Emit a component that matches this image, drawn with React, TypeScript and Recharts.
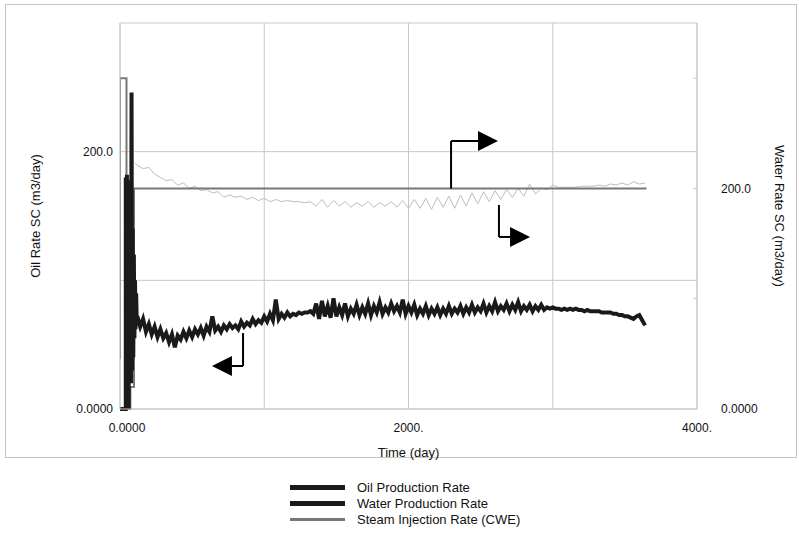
import React from 'react';
import {
  LineChart,
  Line,
  XAxis,
  YAxis,
  CartesianGrid,
  ReferenceLine,
  ReferenceDot,
} from 'recharts';

// ---- data ----
const oilDays = [
  0, 40, 40, 44, 48, 52, 56, 60, 64, 68, 72, 76, 80, 84, 88, 92, 96, 100, 104, 108, 112, 116,
  120, 140, 160, 180, 200, 220, 240, 260, 280, 300,
  320, 340, 360, 380, 400, 420, 440, 460, 480, 500,
  520, 540, 560, 580, 600, 620, 640, 660, 680, 700,
  720, 740, 760, 780, 800, 820, 840, 860, 880, 900,
  920, 940, 960, 980, 1000, 1020, 1040, 1060, 1080, 1100,
  1120, 1140, 1160, 1180, 1200, 1220, 1240, 1260, 1280, 1300,
  1320, 1340, 1360, 1380, 1400, 1420, 1440, 1460, 1480, 1500,
  1520, 1540, 1560, 1580, 1600, 1620, 1640, 1660, 1680, 1700,
  1720, 1740, 1760, 1780, 1800, 1820, 1840, 1860, 1880, 1900,
  1920, 1940, 1960, 1980, 2000, 2020, 2040, 2060, 2080, 2100,
  2120, 2140, 2160, 2180, 2200, 2220, 2240, 2260, 2280, 2300,
  2320, 2340, 2360, 2380, 2400, 2420, 2440, 2460, 2480, 2500,
  2520, 2540, 2560, 2580, 2600, 2620, 2640, 2660, 2680, 2700,
  2720, 2740, 2760, 2780, 2800, 2820, 2840, 2860, 2880, 2900,
  2920, 2940, 2960, 2980, 3000, 3020, 3040, 3060, 3080, 3100,
  3120, 3140, 3160, 3180, 3200, 3220, 3240, 3260, 3280, 3300,
  3320, 3340, 3360, 3380, 3400, 3420, 3440, 3460, 3480, 3500,
  3520, 3540, 3560, 3580, 3600, 3620, 3640,
];
const oilRate = [
  0, 0, 180, 0, 182, 0, 178, 0, 150, 20, 140, 20, 246, 30, 140, 40, 120, 55, 100, 62, 90, 68,
  72, 64, 70, 60, 66, 58, 64, 56, 62, 55,
  59, 52, 58, 48, 57, 54, 60, 55, 61, 56,
  62, 58, 63, 57, 64, 60, 72, 61, 64, 60,
  65, 62, 66, 63, 65, 62, 68, 64, 67, 65,
  70, 66, 69, 67, 72, 68, 74, 69, 85, 70,
  74, 71, 75, 72, 74, 73, 75, 74, 75, 75,
  76, 74, 82, 70, 84, 72, 80, 71, 86, 72,
  79, 73, 82, 72, 78, 74, 81, 73, 79, 74,
  82, 73, 80, 75, 83, 74, 79, 75, 82, 76,
  80, 75, 85, 74, 80, 75, 81, 73, 78, 74,
  80, 73, 78, 74, 79, 73, 78, 74, 80, 74,
  78, 75, 80, 74, 79, 75, 81, 75, 79, 76,
  82, 75, 80, 76, 83, 76, 80, 77, 82, 76,
  81, 77, 83, 76, 80, 77, 81, 76, 80, 77,
  81, 77, 79, 78, 79, 78, 78, 77, 78, 77,
  78, 77, 78, 77, 77, 76, 77, 76, 76, 76,
  76, 75, 75, 75, 75, 74, 74, 73, 73, 72,
  72, 71, 70, 72, 73, 69, 65,
];

const waterDays = [
  105, 120, 160, 200, 240, 280, 320, 360, 400, 440, 480, 520, 560, 600, 640, 680, 720, 760, 800,
  840, 880, 920, 960, 1000, 1040, 1080, 1120, 1160, 1200, 1240, 1280, 1320, 1360, 1400, 1440,
  1480, 1520, 1560, 1600, 1640, 1680, 1720, 1760, 1800, 1840, 1880, 1920, 1960, 2000, 2040,
  2080, 2120, 2160, 2200, 2240, 2280, 2320, 2360, 2400, 2440, 2480, 2520, 2560, 2600, 2640,
  2680, 2720, 2760, 2800, 2840, 2880, 2920, 2960, 3000, 3040, 3080, 3120, 3160, 3200, 3240,
  3280, 3320, 3360, 3400, 3440, 3480, 3520, 3560, 3600, 3640,
];
const waterRate = [
  223, 221, 218, 219, 213, 210, 207, 208, 203, 205, 200, 202, 198, 199, 196, 197, 192, 194, 192,
  193, 190, 192, 189, 191, 188, 190, 188, 189, 188, 188, 187, 188, 184, 190, 183,
  189, 184, 188, 183, 187, 184, 188, 183, 187, 184, 188, 183, 189, 182, 190,
  182, 191, 181, 192, 183, 193, 182, 194, 184, 196, 186, 197, 188, 198, 190,
  199, 192, 200, 193, 204, 195, 200, 199, 203, 201, 201, 201, 201, 202, 202,
  202, 203, 202, 204, 203, 205, 203, 206, 204, 205,
];

const steamDays = [0, 0, 45, 45, 72, 72, 97, 97, 3650];
const steamRate = [45, 300, 300, 0, 0, 20, 20, 200, 200];

const xTicks = [0, 1000, 2000, 3000, 4000];
const xTickLabels: Record<number, string> = { 0: '0.0000', 2000: '2000.', 4000: '4000.' };
const leftTicks = [0, 100, 200, 300];
const rightTicks = [0, 100, 200, 300];
const yTickLabels: Record<number, string> = { 0: '0.0000', 200: '200.0' };

const legendItems = [
  { name: 'Oil Production Rate', color: '#1a1a1a', width: 5 },
  { name: 'Water Production Rate', color: '#1a1a1a', width: 5 },
  { name: 'Steam Injection Rate (CWE)', color: '#777777', width: 3 },
];

// annotation arrows: [day, value] polyline + direction of the head
const arrows = [
  { axis: 'right', path: [[2295, 200], [2295, 243], [2482, 243]], dir: 1 },
  { axis: 'right', path: [[2627, 185], [2627, 156], [2704, 156]], dir: 1 },
  { axis: 'left', path: [[853, 59], [853, 33.4], [776, 33.4]], dir: -1 },
];

const oilData = oilDays.map((d, i) => ({ day: d, oil: oilRate[i] }));
const waterData = waterDays.map((d, i) => ({ day: d, water: waterRate[i] }));
const steamData = steamDays.map((d, i) => ({ day: d, steam: steamRate[i] }));

const FONT = '"Liberation Sans", Arial, sans-serif';
const GRID = '#c8c8c8';

const LeftTick = ({ x, y, payload }: any) => (
  <text x={x} y={y} dy="0.35em" textAnchor="end" fontSize={12} fill="#111" fontFamily={FONT}>
    {yTickLabels[payload.value] ?? ''}
  </text>
);

const RightTick = ({ x, y, payload }: any) => (
  <g>
    {payload.value !== 0 && <line x1={x - 4} x2={x} y1={y} y2={y} stroke={GRID} />}
    <text x={x + 24} y={y} dy="0.35em" textAnchor="start" fontSize={12} fill="#111" fontFamily={FONT}>
      {yTickLabels[payload.value] ?? ''}
    </text>
  </g>
);

const BottomTick = ({ x, y, payload }: any) => (
  <text
    x={payload.value === 0 ? x + 7 : x}
    y={y}
    dy="0.71em"
    textAnchor="middle"
    fontSize={12}
    fill="#111"
    fontFamily={FONT}
  >
    {xTickLabels[payload.value] ?? ''}
  </text>
);

const arrowHead = (dir: number) => (props: any) => {
  const { cx, cy } = props;
  return (
    <polygon
      points={`${cx},${cy - 10} ${cx},${cy + 10} ${cx + dir * 20},${cy}`}
      fill="#000"
    />
  );
};

export default function App() {
  return (
    <div style={{ position: 'absolute', left: 0, top: 0, width: 799, height: 559, fontFamily: FONT, background: '#fff' }}>
      <div
        style={{
          position: 'absolute',
          left: 5,
          top: 4,
          width: 792,
          height: 454,
          border: '1px solid #c4c4c4',
          boxSizing: 'border-box',
        }}
      />
      <div style={{ position: 'absolute', left: 0, top: 0 }}>
        <LineChart width={799} height={470} margin={{ top: 23, right: 0, bottom: 11, left: 0 }}>
          <CartesianGrid yAxisId="left" stroke={GRID} />
          <XAxis
            type="number"
            dataKey="day"
            domain={[0, 4000]}
            ticks={xTicks}
            allowDataOverflow
            height={50}
            tickSize={0}
            tickMargin={14}
            axisLine={{ stroke: GRID }}
            tick={<BottomTick />}
            label={{ value: 'Time (day)', position: 'insideBottom', offset: 2, fontSize: 13, fill: '#111', fontFamily: FONT }}
          />
          <YAxis
            yAxisId="left"
            domain={[0, 300]}
            ticks={leftTicks}
            width={120}
            tickSize={0}
            tickMargin={7}
            axisLine={{ stroke: GRID }}
            tick={<LeftTick />}
            label={{
              value: 'Oil Rate SC (m3/day)',
              angle: -90,
              position: 'insideLeft',
              offset: 35,
              fontSize: 13,
              fill: '#111',
              fontFamily: FONT,
              style: { textAnchor: 'middle' },
            }}
          />
          <YAxis
            yAxisId="right"
            orientation="right"
            domain={[0, 350]}
            ticks={rightTicks}
            width={102}
            tickSize={0}
            tickMargin={0}
            axisLine={{ stroke: GRID }}
            tick={<RightTick />}
            label={{
              value: 'Water Rate SC (m3/day)',
              angle: 90,
              position: 'insideRight',
              offset: 19,
              fontSize: 13,
              fill: '#111',
              fontFamily: FONT,
              style: { textAnchor: 'middle' },
            }}
          />
          <Line
            yAxisId="right"
            data={waterData}
            dataKey="water"
            stroke="#bdbdbd"
            strokeWidth={1}
            dot={false}
            isAnimationActive={false}
          />
          <Line
            yAxisId="right"
            data={steamData}
            dataKey="steam"
            stroke="#777777"
            strokeWidth={2}
            dot={false}
            isAnimationActive={false}
          />
          <Line
            yAxisId="left"
            data={oilData}
            dataKey="oil"
            stroke="#1a1a1a"
            strokeWidth={4}
            dot={false}
            isAnimationActive={false}
          />
          {arrows.map((a, i) =>
            a.path.slice(1).map((p, j) => (
              <ReferenceLine
                key={`a${i}-${j}`}
                yAxisId={a.axis}
                segment={[
                  { x: a.path[j][0], y: a.path[j][1] },
                  { x: p[0], y: p[1] },
                ]}
                stroke="#000"
                strokeWidth={2}
                ifOverflow="visible"
              />
            ))
          )}
          {arrows.map((a, i) => {
            const end = a.path[a.path.length - 1];
            return (
              <ReferenceDot
                key={`h${i}`}
                yAxisId={a.axis}
                x={end[0]}
                y={end[1]}
                r={10}
                ifOverflow="visible"
                shape={arrowHead(a.dir)}
              />
            );
          })}
        </LineChart>
      </div>
      {legendItems.map((item, i) => (
        <div
          key={item.name}
          style={{
            position: 'absolute',
            left: 290,
            top: 479 + i * 16,
            height: 16,
            display: 'flex',
            alignItems: 'center',
            fontSize: 13,
            color: '#111',
          }}
        >
          <div style={{ width: 55, height: item.width, background: item.color }} />
          <span style={{ marginLeft: 12 }}>{item.name}</span>
        </div>
      ))}
    </div>
  );
}
